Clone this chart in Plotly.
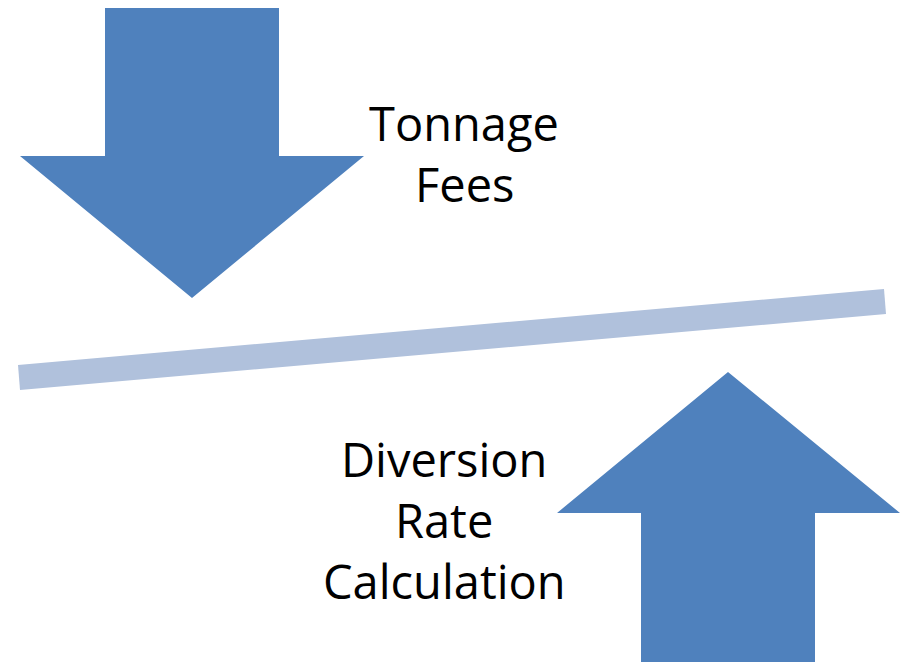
import plotly.graph_objects as go

# shape outlines in pixel coordinates (y grows downward)
down_arrow_x = [105, 279, 279, 364, 192, 20, 105, 105]
down_arrow_y = [8, 8, 156, 156, 298, 156, 156, 8]
up_arrow_x = [728, 900, 815, 815, 641, 641, 557, 728]
up_arrow_y = [372, 513, 513, 662, 662, 513, 513, 372]
bar_x = [18, 884, 886, 20, 18]
bar_y = [365, 289, 314, 390, 365]

top_lines = ["Tonnage", "Fees"]
bottom_lines = ["Diversion", "Rate", "Calculation"]

arrow_color = "#4f81bd"
bar_color = "#b0c1dc"

fig = go.Figure()
fig.add_trace(go.Scatter(x=bar_x, y=bar_y, fill="toself", mode="lines",
                         line=dict(width=0, color=bar_color), fillcolor=bar_color, hoverinfo="skip"))
fig.add_trace(go.Scatter(x=down_arrow_x, y=down_arrow_y, fill="toself", mode="lines",
                         line=dict(width=0, color=arrow_color), fillcolor=arrow_color, hoverinfo="skip"))
fig.add_trace(go.Scatter(x=up_arrow_x, y=up_arrow_y, fill="toself", mode="lines",
                         line=dict(width=0, color=arrow_color), fillcolor=arrow_color, hoverinfo="skip"))

font = dict(family="Open Sans, Liberation Sans, sans-serif", size=47, color="black")
for i, t in enumerate(top_lines):
    fig.add_annotation(x=464, y=123 + i * 61, text=t, showarrow=False, font=font,
                       xanchor="center", yanchor="middle")
for i, t in enumerate(bottom_lines):
    fig.add_annotation(x=444, y=459 + i * 61, text=t, showarrow=False, font=font,
                       xanchor="center", yanchor="middle")

fig.update_layout(
    width=908, height=662, margin=dict(l=0, r=0, t=0, b=0),
    plot_bgcolor="white", paper_bgcolor="white", showlegend=False,
    xaxis=dict(range=[0, 908], visible=False, fixedrange=True),
    yaxis=dict(range=[662, 0], visible=False, fixedrange=True),
)
fig.write_html("out.html", config={"displayModeBar": False},
               post_script="document.body.style.margin='0';")
